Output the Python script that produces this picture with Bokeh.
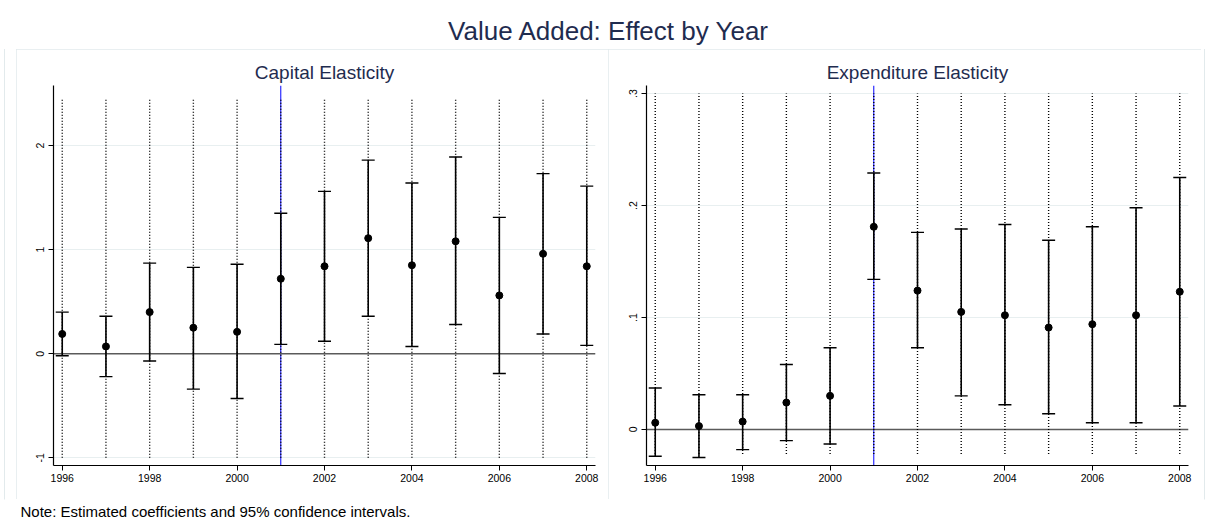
from bokeh.plotting import figure
from bokeh.layouts import column, row
from bokeh.models import (Range1d, FixedTicker, Span, Whisker, TeeHead,
                          ColumnDataSource, CustomJSTickFormatter, Spacer)
from bokeh.core.properties import value
from bokeh.embed import file_html
from bokeh.resources import INLINE

# ---------------- data ----------------
years = [1996, 1997, 1998, 1999, 2000, 2001, 2002, 2003, 2004, 2005, 2006, 2007, 2008]

cap_coef = [0.19, 0.07, 0.40, 0.25, 0.21, 0.72, 0.84, 1.11, 0.85, 1.08, 0.56, 0.96, 0.84]
cap_lo = [-0.02, -0.22, -0.07, -0.34, -0.43, 0.09, 0.12, 0.36, 0.07, 0.28, -0.19, 0.19, 0.08]
cap_hi = [0.40, 0.36, 0.87, 0.83, 0.86, 1.35, 1.56, 1.86, 1.64, 1.89, 1.31, 1.73, 1.61]
cap_dot_range = [-1.0, 2.46]
cap_yticks = [-1, 0, 1, 2]

exp_coef = [0.006, 0.003, 0.007, 0.024, 0.030, 0.181, 0.124, 0.105, 0.102, 0.091, 0.094, 0.102, 0.123]
exp_lo = [-0.024, -0.025, -0.018, -0.010, -0.013, 0.134, 0.073, 0.030, 0.022, 0.014, 0.006, 0.006, 0.021]
exp_hi = [0.037, 0.031, 0.031, 0.058, 0.073, 0.229, 0.176, 0.179, 0.183, 0.169, 0.181, 0.198, 0.225]
exp_dot_range = [-0.022, 0.30]
exp_yticks = [0, 0.1, 0.2, 0.3]

xticks = [1996, 1998, 2000, 2002, 2004, 2006, 2008]
event_year = 2001

main_title = "Value Added: Effect by Year"
titles = ["Capital Elasticity", "Expenditure Elasticity"]
note = "Note: Estimated coefficients and 95% confidence intervals."

FONT = "Liberation Sans"
NAVY = "#1f2c4f"
FRAME = "#e2eaec"
GRID = "#e8eff0"


def panel(title, coef, lo, hi, dot_rng, yr, yticks, fmt_code, width, ml, mr):
    p = figure(width=width, height=450, x_range=Range1d(1995.8, 2008.2),
               y_range=Range1d(*yr), output_backend="svg", toolbar_location=None,
               min_border_left=ml, min_border_right=mr, min_border_top=36,
               min_border_bottom=34)
    p.outline_line_color = None
    p.background_fill_color = "white"
    p.border_fill_color = "white"
    p.styles = {"outline": "1px solid " + FRAME, "outline-offset": "-1px"}

    p.title.text = title
    p.title.align = "center"
    p.title.text_font = FONT
    p.title.text_font_size = "19px"
    p.title.text_font_style = "normal"
    p.title.text_color = NAVY
    p.title.standoff = 5

    p.xgrid.visible = False
    p.ygrid.grid_line_color = GRID
    p.ygrid.grid_line_width = 1.2
    p.ygrid.ticker = FixedTicker(ticks=yticks)

    for ax in (p.xaxis[0], p.yaxis[0]):
        ax.axis_line_color = "black"
        ax.axis_line_width = 1.2
        ax.major_tick_line_color = "black"
        ax.major_tick_in = 0
        ax.major_tick_out = 5
        ax.minor_tick_line_color = None
        ax.major_label_text_font = FONT
        ax.major_label_text_font_size = "10.5px"
        ax.major_label_text_color = "black"
    p.xaxis.ticker = FixedTicker(ticks=xticks)
    p.xaxis.major_label_standoff = 3
    p.yaxis.ticker = FixedTicker(ticks=yticks)
    p.yaxis.major_label_orientation = "vertical"
    p.yaxis.major_label_standoff = 4
    p.yaxis.formatter = CustomJSTickFormatter(code=fmt_code)

    p.add_layout(Span(location=event_year, dimension="height", line_color="blue",
                      line_width=1, level="underlay"))
    p.add_layout(Span(location=0, dimension="width", line_color="#5a5a5a",
                      line_width=1.5, level="underlay"))

    src = ColumnDataSource(dict(x=years, coef=coef, lo=lo, hi=hi,
                                dlo=[dot_rng[0]] * len(years),
                                dhi=[dot_rng[1]] * len(years)))
    p.segment(x0="x", y0="dlo", x1="x", y1="dhi", source=src, line_color="black",
              line_width=1.4, line_dash="1 2")
    w = Whisker(source=src, base="x", lower="lo", upper="hi", dimension="height",
                line_color="black", line_width=1.6, level="glyph",
                upper_head=TeeHead(size=13, line_color="black", line_width=1.4),
                lower_head=TeeHead(size=13, line_color="black", line_width=1.4))
    p.add_layout(w)
    p.scatter(x="x", y="coef", source=src, size=7, color="black")
    return p


p1 = panel(titles[0], cap_coef, cap_lo, cap_hi, cap_dot_range, (-1.074, 2.577),
           cap_yticks, "return String(tick);", 592, 37, 13)
p2 = panel(titles[1], exp_coef, exp_lo, exp_hi, exp_dot_range, (-0.0322, 0.3072),
           exp_yticks,
           "if (tick == 0) return '0'; return tick.toFixed(1).replace(/^0/, '');",
           593, 38, 13)


def text_fig(w, h, x, y, txt, size, color, align):
    f = figure(width=w, height=h, x_range=Range1d(0, w), y_range=Range1d(0, h),
               output_backend="svg", toolbar_location=None, min_border=0,
               x_axis_location=None, y_axis_location=None)
    f.grid.visible = False
    f.outline_line_color = None
    f.text(x=[x], y=[y], text=[txt], text_align=align, text_baseline="middle",
           text_font=value(FONT), text_font_size=size, text_color=color)
    return f


hdr = text_fig(1209, 49, 608.5, 19, main_title, "26px", NAVY, "center")
ftr = text_fig(1209, 32, 20, 20.3, note, "15px", "black", "left")

layout = column(hdr, row(Spacer(width=16, height=450), p1, p2, Spacer(width=8, height=450)),
                ftr,
                styles={"outline": "1px solid " + FRAME, "outline-offset": "-5px"})

open("out.html", "w").write(file_html(layout, INLINE))
